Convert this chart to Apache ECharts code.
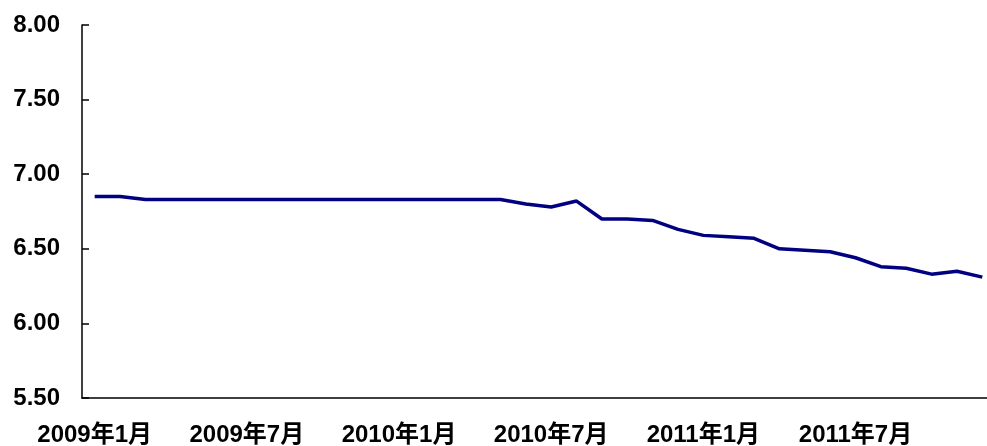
<!DOCTYPE html>
<html>
<head>
<meta charset="utf-8">
<script src="https://cdn.jsdelivr.net/npm/echarts@6/dist/echarts.min.js"></script>
<style>
  html, body { margin: 0; padding: 0; background: #fff; }
  #chart { width: 987px; height: 446px; }
</style>
</head>
<body>
<div id="chart"></div>
<script>
// months 2009-01 .. 2011-12
const months = [];
for (let y = 2009; y <= 2011; y++) {
  for (let m = 1; m <= 12; m++) months.push(y + "年" + m + "月");
}

const rates = [
  6.85, 6.85, 6.83, 6.83, 6.83, 6.83, 6.83, 6.83, 6.83, 6.83, 6.83, 6.83,
  6.83, 6.83, 6.83, 6.83, 6.83, 6.80, 6.78, 6.82, 6.70, 6.70, 6.69, 6.63,
  6.59, 6.58, 6.57, 6.50, 6.49, 6.48, 6.44, 6.38, 6.37, 6.33, 6.35, 6.31
];

const yTicks = { min: 5.5, max: 8, interval: 0.5 };

const font = "'Liberation Sans', Arial, 'Noto Sans CJK SC', sans-serif";

const chart = echarts.init(document.getElementById("chart"));
chart.setOption({
  animation: false,
  // plot runs a little past the right edge of the canvas
  grid: { left: 82, width: 913, top: 25, bottom: 48, outerBoundsMode: "none" },
  xAxis: {
    type: "category",
    data: months,
    boundaryGap: true,
    axisLine: { lineStyle: { color: "#000", width: 1.5 } },
    axisTick: { inside: true, length: 7, interval: 5, lineStyle: { color: "#000", width: 1.5 } },
    axisLabel: {
      interval: 5,
      margin: 25,
      color: "#000",
      fontWeight: "bold",
      fontSize: 24,
      fontFamily: font,
    },
    splitLine: { show: false },
  },
  yAxis: {
    type: "value",
    min: yTicks.min,
    max: yTicks.max,
    interval: yTicks.interval,
    axisLine: { show: true, lineStyle: { color: "#000", width: 1.5 } },
    axisTick: { show: true, inside: true, length: 7, lineStyle: { color: "#000", width: 1.5 } },
    axisLabel: {
      margin: 22,
      color: "#000",
      fontWeight: "bold",
      fontSize: 24,
      fontFamily: font,
      formatter: (v) => v.toFixed(2),
    },
    splitLine: { show: false },
  },
  series: [
    {
      type: "line",
      data: rates,
      symbol: "none",
      lineStyle: { color: "#000080", width: 3.5 },
    },
  ],
});
</script>
</body>
</html>
